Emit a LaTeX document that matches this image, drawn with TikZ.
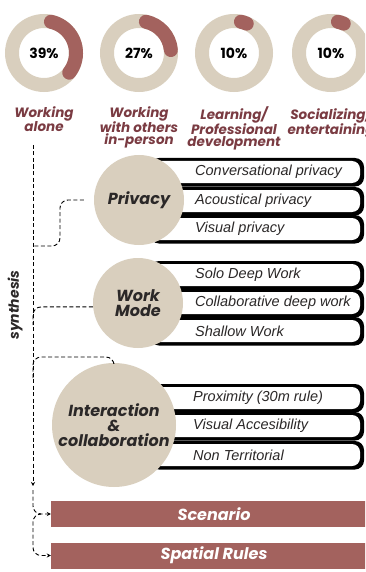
\documentclass[tikz,border=0pt]{standalone}
\usepackage{fontspec}
\setmainfont{Poppins}
\newfontfamily\pillfont{Liberation Sans}
\usetikzlibrary{positioning,arrows.meta}

\definecolor{sand}{HTML}{D9CFBE}
\definecolor{rust}{HTML}{A3625E}
\definecolor{wine}{HTML}{7A3B42}
\definecolor{ink}{HTML}{2B2828}

\tikzset{
  ring/.style={draw=sand, line width=14pt},
  share/.style={draw=rust, line width=14pt, line cap=round},
  pct/.style={inner sep=0pt, font=\fontsize{14}{14}\selectfont\bfseries},
  cat/.style={anchor=north, inner sep=0pt, align=center, text=wine, font=\fontsize{13.5}{12}\selectfont\bfseries\itshape},
  topic/.style={circle, fill=sand, inner sep=0pt, align=center, text=ink, font=\fontsize{16}{15}\selectfont\bfseries\itshape},
  pillback/.style={fill=black, rounded corners=9pt},
  pillfront/.style={fill=white, rounded corners=8pt},
  pilltext/.style={anchor=west, inner sep=0pt, text=ink, font=\pillfont\itshape\fontsize{14.5}{14.5}\selectfont},
  link/.style={draw=black, line width=0.9pt, dash pattern=on 4pt off 2.5pt, rounded corners=8pt},
  tip/.style={-{Stealth[length=4pt,width=4pt]}},
  outcome/.style={fill=rust, text=white, inner sep=0pt, minimum width=326pt, minimum height=26pt, font=\fontsize{16}{16}\selectfont\bfseries\itshape},
}

\begin{document}
\begin{tikzpicture}[x=1pt, y=-1pt]
    \useasboundingbox (0,0) rectangle (365,572);
    \clip (0,0) rectangle (365,572);

    \node[pct] (alone) at (44,53) {39\%};
    \node[pct] (others) at (139,53) {27\%};
    \node[pct] (learning) at (234,53) {10\%};
    \node[pct] (social) at (331,53) {10\%};

    \draw[ring] (alone) circle (32);
    \draw[ring] (others) circle (32);
    \draw[ring] (learning) circle (32);
    \draw[ring] (social) circle (32);

    \draw[share] ([shift={(-77.5:32)}]alone.center) arc[start angle=-77.5, end angle=37.9, radius=32];
    \draw[share] ([shift={(-77.5:32)}]others.center) arc[start angle=-77.5, end angle=-5.3, radius=32];
    \draw[share] ([shift={(-77.5:32)}]learning.center) arc[start angle=-77.5, end angle=-66.5, radius=32];
    \draw[share] ([shift={(-77.5:32)}]social.center) arc[start angle=-77.5, end angle=-66.5, radius=32];

    \node[cat] (alonelbl) at (44,106) {Working\\alone};
    \node[cat] (otherslbl) at (139,106) {Working\\with others\\in-person};
    \node[cat] (learninglbl) at (234,106) {Learning/\\Professional\\development};
    \node[cat] (sociallbl) at (331,106) {Socializing/\\entertaining};

    \fill[pillback] (150,158) rectangle (364,186.5);
    \fill[pillfront] (150,161) rectangle (360,183);
    \fill[pillback] (150,187) rectangle (364,215.5);
    \fill[pillfront] (150,190) rectangle (360,212);
    \fill[pillback] (150,215) rectangle (364,243.5);
    \fill[pillfront] (150,218) rectangle (360,240);

    \fill[pillback] (150,261) rectangle (364,289.5);
    \fill[pillfront] (150,264) rectangle (360,286);
    \fill[pillback] (150,289) rectangle (364,317.5);
    \fill[pillfront] (150,292) rectangle (360,314);
    \fill[pillback] (150,317) rectangle (364,345.5);
    \fill[pillfront] (150,320) rectangle (360,342);

    \fill[pillback] (150,384) rectangle (364,412.5);
    \fill[pillfront] (150,387) rectangle (360,409);
    \fill[pillback] (150,412) rectangle (364,440.5);
    \fill[pillfront] (150,415) rectangle (360,437);
    \fill[pillback] (150,441) rectangle (364,469.5);
    \fill[pillfront] (150,444) rectangle (360,466);

    \node[topic, minimum size=90pt] (privacy) at (139,200) {Privacy};
    \node[topic, minimum size=90pt] (workmode) at (138,303) {Work\\Mode};
    \node[topic, minimum size=124pt] (interaction) at (114,425) {Interaction\\\&\\collaboration};

    \node[pilltext] (conv) at (195,172) {Conversational privacy};
    \node[pilltext] (acou) at (195,201) {Acoustical privacy};
    \node[pilltext] (vis) at (195,229) {Visual privacy};

    \node[pilltext] (solo) at (195,275) {Solo Deep Work};
    \node[pilltext] (collab) at (195,303) {Collaborative deep work};
    \node[pilltext] (shallow) at (195,331) {Shallow Work};

    \node[pilltext] (prox) at (193,398) {Proximity (30m rule)};
    \node[pilltext] (access) at (193,426) {Visual Accesibility};
    \node[pilltext] (nonterr) at (193,455) {Non Territorial};

    \node[outcome] (scenario) at (214,514) {Scenario};
    \node[outcome] (spatial) at (214,555.5) {Spatial Rules};

    \node[rotate=90, inner sep=0pt, text=ink, font=\fontsize{14}{14}\selectfont\bfseries\itshape] (synth) at (15,305) {synthesis};

    \coordinate (trunktop) at (33,145);
    \coordinate (trunkend) at (33,486);
    \coordinate (privbend) at (60,222);
    \coordinate (privjoin) at (33,246);
    \coordinate (workjoin) at (33,325);
    \coordinate (interjoin) at (33,378);
    \coordinate (interbend) at (114,357);
    \coordinate (fork) at (33,490);
    \coordinate (forkstart) at (40,514);
    \coordinate (forkmid) at (33,535);

    \draw[link, tip] (trunktop) -- (trunkend);
    \draw[link] ([xshift=-10pt]privacy.west) -| (privbend) |- (privjoin);
    \draw[link] (workmode.185) -| (workjoin);
    \draw[link] (interjoin) |- (interbend) -- (interaction.north);
    \draw[link, tip] (fork) |- (scenario.west);
    \draw[link, tip] (forkstart) -| (forkmid) |- (spatial.west);
\end{tikzpicture}
\end{document}
